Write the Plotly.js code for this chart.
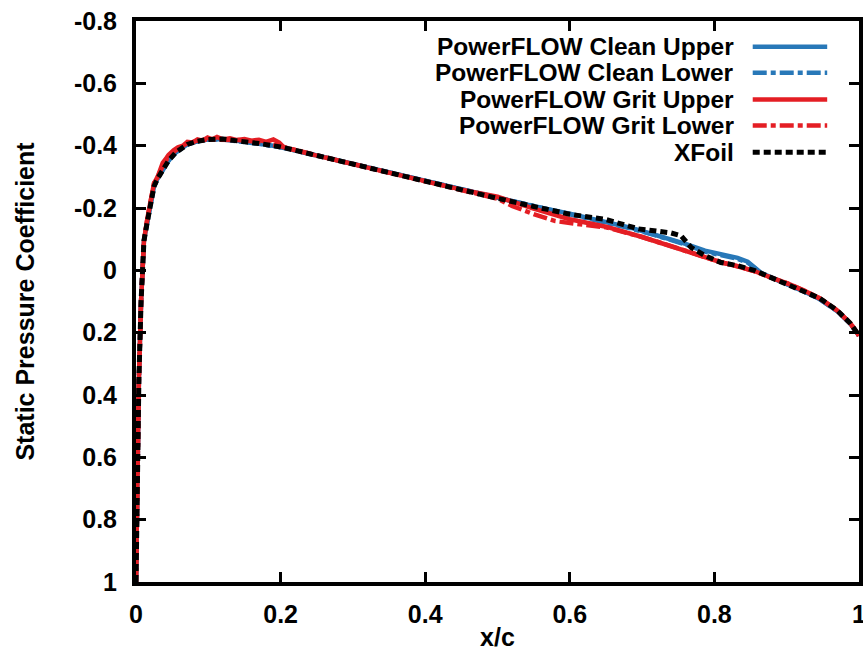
<!DOCTYPE html>
<html>
<head>
<meta charset="utf-8">
<script src="https://cdn.plot.ly/plotly-3.0.1.min.js"></script>
<style>html,body{margin:0;padding:0;background:#fff;}#chart{width:863px;height:661px;}</style>
</head>
<body>
<div id="chart"></div>
<script>
// ---- Data ----
const xfoilX = [0, 0.001, 0.002, 0.004, 0.007, 0.011, 0.016, 0.021, 0.025, 0.030, 0.037, 0.045, 0.055, 0.071, 0.085, 0.099, 0.12, 0.14, 0.17, 0.2, 0.25, 0.3, 0.35, 0.4, 0.45, 0.5, 0.55, 0.6, 0.65, 0.695, 0.74, 0.754, 0.768, 0.787, 0.809, 0.832, 0.856, 0.878, 0.901, 0.924, 0.946, 0.97, 0.988, 0.997, 1.0];
const xfoilCp = [1.0, 0.8, 0.6, 0.35, 0.1, -0.095, -0.16, -0.22, -0.27, -0.295, -0.32, -0.352, -0.378, -0.404, -0.414, -0.42, -0.421, -0.416, -0.407, -0.396, -0.368, -0.341, -0.313, -0.286, -0.258, -0.231, -0.205, -0.18, -0.163, -0.133, -0.12, -0.111, -0.073, -0.047, -0.025, -0.015, 0.001, 0.023, 0.042, 0.065, 0.09, 0.129, 0.17, 0.199, 0.21];

const cleanUpperX = [0, 0.001, 0.002, 0.004, 0.007, 0.011, 0.016, 0.021, 0.025, 0.030, 0.037, 0.045, 0.055, 0.071, 0.085, 0.099, 0.12, 0.14, 0.17, 0.2, 0.25, 0.3, 0.35, 0.4, 0.45, 0.5, 0.55, 0.6, 0.64, 0.685, 0.722, 0.74, 0.76, 0.787, 0.81, 0.832, 0.846, 0.864, 0.878, 0.901, 0.924, 0.946, 0.97, 0.988, 0.997, 1.0];
const cleanUpperCp = [1.0, 0.8, 0.6, 0.35, 0.1, -0.095, -0.16, -0.22, -0.27, -0.295, -0.32, -0.352, -0.378, -0.404, -0.414, -0.42, -0.421, -0.416, -0.407, -0.396, -0.369, -0.342, -0.314, -0.287, -0.259, -0.232, -0.206, -0.182, -0.16, -0.136, -0.111, -0.1, -0.085, -0.063, -0.05, -0.04, -0.028, 0.007, 0.022, 0.044, 0.068, 0.093, 0.131, 0.171, 0.2, 0.21];
const cleanLowerX = [0, 0.001, 0.002, 0.004, 0.007, 0.011, 0.016, 0.021, 0.025, 0.030, 0.037, 0.045, 0.055, 0.071, 0.085, 0.099, 0.12, 0.14, 0.17, 0.2, 0.25, 0.3, 0.35, 0.4, 0.45, 0.5, 0.55, 0.6, 0.64, 0.685, 0.722, 0.74, 0.76, 0.787, 0.81, 0.832, 0.846, 0.864, 0.878, 0.901, 0.924, 0.946, 0.97, 0.988, 0.997, 1.0];
const cleanLowerCp = [1.0, 0.8, 0.6, 0.35, 0.1, -0.095, -0.16, -0.22, -0.27, -0.295, -0.32, -0.352, -0.378, -0.404, -0.414, -0.42, -0.42, -0.415, -0.406, -0.395, -0.368, -0.341, -0.313, -0.286, -0.258, -0.231, -0.205, -0.18, -0.158, -0.134, -0.11, -0.098, -0.083, -0.06, -0.047, -0.037, -0.025, 0.008, 0.023, 0.044, 0.068, 0.093, 0.131, 0.171, 0.2, 0.21];

const gritUpperX = [0, 0.001, 0.002, 0.004, 0.007, 0.011, 0.016, 0.021, 0.025, 0.030, 0.034, 0.037, 0.042, 0.045, 0.052, 0.058, 0.065, 0.071, 0.078, 0.085, 0.092, 0.099, 0.105, 0.112, 0.12, 0.13, 0.14, 0.15, 0.16, 0.17, 0.18, 0.19, 0.198, 0.205, 0.25, 0.3, 0.35, 0.4, 0.45, 0.5, 0.55, 0.6, 0.65, 0.7, 0.75, 0.768, 0.787, 0.809, 0.832, 0.856, 0.878, 0.901, 0.924, 0.946, 0.97, 0.988, 0.997, 1.0];
const gritUpperCp = [1.0, 0.8, 0.6, 0.35, 0.1, -0.095, -0.17, -0.23, -0.28, -0.3, -0.33, -0.345, -0.36, -0.37, -0.385, -0.395, -0.4, -0.412, -0.41, -0.42, -0.416, -0.426, -0.42, -0.428, -0.42, -0.424, -0.418, -0.421, -0.416, -0.419, -0.412, -0.42, -0.41, -0.394, -0.368, -0.341, -0.313, -0.286, -0.259, -0.236, -0.198, -0.164, -0.14, -0.107, -0.07, -0.056, -0.045, -0.026, -0.013, 0.003, 0.023, 0.042, 0.065, 0.09, 0.129, 0.17, 0.199, 0.21];
const gritLowerX = [0, 0.001, 0.002, 0.004, 0.007, 0.011, 0.016, 0.021, 0.025, 0.030, 0.037, 0.045, 0.055, 0.071, 0.085, 0.099, 0.12, 0.14, 0.17, 0.2, 0.25, 0.3, 0.35, 0.4, 0.45, 0.5, 0.52, 0.55, 0.58, 0.6, 0.62, 0.65, 0.7, 0.75, 0.768, 0.787, 0.809, 0.832, 0.856, 0.878, 0.901, 0.924, 0.946, 0.97, 0.988, 0.997, 1.0];
const gritLowerCp = [1.0, 0.8, 0.6, 0.35, 0.1, -0.095, -0.17, -0.23, -0.28, -0.3, -0.335, -0.365, -0.385, -0.408, -0.416, -0.42, -0.42, -0.418, -0.412, -0.398, -0.369, -0.341, -0.313, -0.286, -0.258, -0.23, -0.207, -0.18, -0.158, -0.151, -0.146, -0.138, -0.107, -0.07, -0.056, -0.045, -0.026, -0.013, 0.003, 0.023, 0.042, 0.065, 0.09, 0.129, 0.17, 0.199, 0.21];

const seriesNames = ["PowerFLOW Clean Upper", "PowerFLOW Clean Lower", "PowerFLOW Grit Upper", "PowerFLOW Grit Lower", "XFoil"];
const xTickVals = [0, 0.2, 0.4, 0.6, 0.8, 1];
const xTickText = ["0", "0.2", "0.4", "0.6", "0.8", "1"];
const yTickVals = [-0.8, -0.6, -0.4, -0.2, 0, 0.2, 0.4, 0.6, 0.8, 1];
const yTickText = ["-0.8", "-0.6", "-0.4", "-0.2", "0", "0.2", "0.4", "0.6", "0.8", "1"];

// ---- Styles ----
const BLUE = "rgb(40,120,184)";
const RED = "rgb(228,30,36)";
const BLACK = "#000";
const DASHDOT = "14px,4px,5px,4px";
const DOTS = "7px,4px";
const FONT = "Liberation Sans, Arial, sans-serif";

const styles = [
  {color: BLUE, dash: "solid", width: 4.5},
  {color: BLUE, dash: DASHDOT, width: 4.5},
  {color: RED, dash: "solid", width: 4.5},
  {color: RED, dash: DASHDOT, width: 4.5},
  {color: BLACK, dash: DOTS, width: 5}
];
const xs = [cleanUpperX, cleanLowerX, gritUpperX, gritLowerX, xfoilX];
const ys = [cleanUpperCp, cleanLowerCp, gritUpperCp, gritLowerCp, xfoilCp];

const traces = seriesNames.map((n, i) => ({
  x: xs[i], y: ys[i], name: n, type: "scatter", mode: "lines",
  line: {color: styles[i].color, dash: styles[i].dash, width: styles[i].width},
  showlegend: false, hoverinfo: "skip"
}));

// Custom legend (text on the left, sample on the right)
const legRowsY = [0.9539, 0.9078, 0.8599, 0.8138, 0.766];
const annotations = seriesNames.map((n, i) => ({
  xref: "paper", yref: "paper", x: 0.8294, y: legRowsY[i],
  xanchor: "right", yanchor: "middle", text: n, showarrow: false,
  font: {family: FONT, size: 24.5, color: "#000", weight: "bold"}
}));
const shapes = seriesNames.map((n, i) => ({
  type: "line", xref: "paper", yref: "paper",
  x0: 0.853, x1: 0.956, y0: legRowsY[i], y1: legRowsY[i],
  line: {color: styles[i].color, dash: styles[i].dash, width: styles[i].width}
}));

const axisCommon = {
  showgrid: false, zeroline: false, showline: true, linewidth: 4, linecolor: "#000",
  mirror: "ticks", ticks: "inside", ticklen: 10, tickwidth: 3, tickcolor: "#000",
  ticklabeloverflow: "allow",
  tickfont: {family: FONT, size: 25, color: "#000", weight: "bold"}
};

const layout = {
  width: 863, height: 661,
  margin: {l: 136, r: 4, t: 21, b: 79, pad: 0},
  paper_bgcolor: "#fff", plot_bgcolor: "#fff",
  showlegend: false,
  xaxis: Object.assign({}, axisCommon, {
    range: [0, 1], tickvals: xTickVals, ticktext: xTickText, ticklabelstandoff: 7,
    title: {text: "x/c", font: {family: FONT, size: 25, color: "#000", weight: "bold"}, standoff: 2}
  }),
  yaxis: Object.assign({}, axisCommon, {
    range: [1, -0.8], tickvals: yTickVals, ticktext: yTickText, ticklabelstandoff: 10,
    title: {text: "Static Pressure Coefficient", font: {family: FONT, size: 25, color: "#000", weight: "bold"}, standoff: 33}
  }),
  annotations: annotations,
  shapes: shapes
};

Plotly.newPlot("chart", traces, layout, {staticPlot: true, displayModeBar: false});
</script>
</body>
</html>
